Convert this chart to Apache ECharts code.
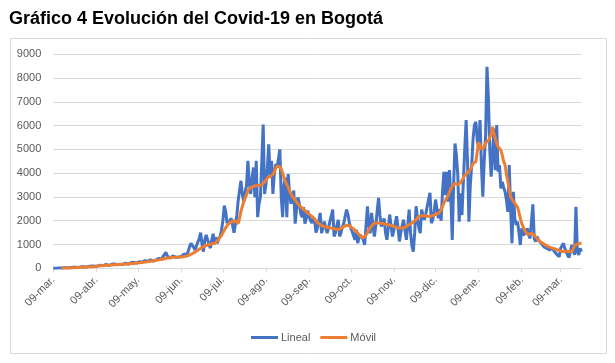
<!DOCTYPE html>
<html>
<head>
<meta charset="utf-8">
<script src="https://cdn.jsdelivr.net/npm/echarts@6/dist/echarts.min.js"></script>
<style>html,body{margin:0;padding:0;background:#fff;}#c{width:615px;height:363px;}</style>
</head>
<body>
<div id="c"></div>
<script>
// Daily cases (Lineal), from 09-mar-2020
const lineal = [
1,3,2,5,8,10,9,15,20,18,
25,30,22,35,40,30,45,50,38,55,
60,48,65,70,55,80,90,70,95,110,
85,120,100,90,130,140,110,150,160,125,
115,150,170,140,180,190,150,140,175,200,
165,210,220,180,170,215,240,200,250,260,
220,210,280,300,260,250,320,340,290,310,
360,330,300,380,350,340,420,450,380,500,
560,670,520,450,430,480,520,560,470,430,
460,420,500,520,600,640,560,700,900,1050,
1080,880,770,950,1100,1250,1500,1000,700,1200,
1400,1450,1000,850,1200,1450,1100,1300,1050,1250,
1350,1600,2000,2640,2400,1900,1850,2000,2100,2150,
1500,1450,2200,2850,2900,3680,3125,2800,3200,3475,
4520,3600,3125,3800,4240,2990,4520,2150,2700,3000,
4500,6050,3125,3540,4200,5210,3820,4520,3125,4000,
4380,4240,4200,5000,2990,2150,3500,3820,2150,3960,
3125,2710,3000,3270,1875,2500,2990,2710,2300,2150,
2570,1875,2100,2430,2200,2015,1900,2100,2000,1500,
1700,2000,2330,1480,1700,1970,1700,1480,1700,1970,
2200,2470,1340,1500,1800,2040,1340,1500,1750,1900,
2200,2470,2260,1900,1700,1550,1620,1200,1620,1060,
1300,1400,1480,1200,990,1800,2610,1800,1480,2330,
1800,1340,1800,2400,2960,2200,1760,1900,2100,1500,
1200,1700,2260,1800,1340,1600,1900,2190,1700,1130,
1500,1800,2040,1600,1200,1800,2470,1500,920,700,
1500,2610,2100,1700,1480,2470,2200,2040,2300,2600,
2900,3170,1900,2040,2400,2890,2500,2100,2500,2000,
3200,4060,3080,4060,2800,4130,3000,1190,3500,5250,
4760,3920,1960,3150,2240,3640,5000,6230,4500,1960,
3500,4340,5460,6020,6160,5400,5040,6230,4340,3010,
4500,5600,8470,7200,5000,3850,4800,5880,4130,6020,
4060,4340,3360,3640,3400,3220,2870,2380,4340,2500,
1050,3220,2100,1820,1960,1500,980,1680,1400,1400,
1500,1680,1400,1260,1300,2690,1260,1120,1330,1200,
1120,1050,980,900,870,840,800,770,800,840,
750,700,600,560,490,840,950,1050,840,700,
550,450,700,980,840,560,2590,700,560,840,700
];
// Moving average (Móvil)
const movil = [
null,null,null,null,null,null,6,7,9,11,
13,15,17,20,23,25,28,31,34,37,
40,43,46,50,53,57,61,65,70,75,
80,88,95,100,105,110,115,120,125,128,
132,136,140,144,148,152,156,160,164,168,
172,176,180,185,190,194,198,202,206,212,
218,224,230,238,246,254,262,270,278,286,
295,305,315,325,335,345,355,365,378,390,
405,420,432,440,448,455,460,465,468,470,
472,474,478,480,490,505,520,540,560,590,
620,650,680,720,760,800,840,880,910,940,
960,980,1000,1010,1020,1030,1040,1080,1150,1220,
1300,1390,1500,1600,1700,1800,1880,1920,1960,1990,
2010,1980,1920,1880,2100,2400,2600,2800,2950,3100,
3270,3330,3400,3440,3450,3460,3470,3475,3480,3500,
3520,3545,3620,3700,3800,3830,3860,3890,3950,4080,
4200,4300,4310,4260,4170,4000,3800,3650,3520,3400,
3250,3130,3030,2950,2870,2790,2710,2650,2590,2530,
2480,2430,2380,2330,2280,2230,2180,2130,2080,1980,
1920,1880,1840,1800,1770,1750,1740,1730,1720,1700,
1690,1680,1670,1650,1630,1620,1650,1690,1720,1750,
1780,1810,1830,1790,1740,1700,1650,1600,1540,1490,
1420,1350,1300,1270,1320,1400,1500,1620,1700,1780,
1850,1900,1910,1910,1910,1900,1900,1890,1870,1850,
1840,1830,1820,1800,1780,1760,1740,1720,1700,1690,
1690,1690,1690,1720,1760,1800,1830,1870,1900,1940,
1970,2040,2110,2180,2215,2215,2215,2215,2200,2190,
2180,2180,2200,2220,2250,2270,2290,2300,2310,2450,
2600,2750,2850,2950,3050,3200,3350,3450,3530,3570,
3550,3520,3500,3600,3700,3800,3920,3970,4010,4050,
4150,4280,4410,4450,4480,4900,5300,5200,5000,4950,
5100,5280,5330,5360,5390,5650,5950,5650,5450,5250,
5110,5050,4970,4750,4500,4340,3950,3650,3300,3000,
2900,2810,2730,2650,2560,2350,2100,1890,1750,1620,
1520,1430,1420,1450,1470,1450,1410,1330,1250,1180,
1140,1100,1060,1020,980,940,910,890,870,850,
830,810,790,770,750,730,710,700,710,720,
730,720,710,700,820,960,990,1010,1040,1050,1050
];
const startDate = '2020-03-09';
const monthNames = ['ene.','feb.','mar.','abr.','may.','jun.','jul.','ago.','sep.','oct.','nov.','dic.'];
const seriesNames = ['Lineal', 'Móvil'];
const titleText = 'Gráfico 4 Evolución del Covid-19 en Bogotá';

const t0 = Date.parse(startDate + 'T00:00:00Z');
const dates = lineal.map((_, i) => new Date(t0 + i * 86400000).toISOString().slice(0, 10));
const isLabelDay = (v) => v.slice(8, 10) === '09';
const fmt = (v) => v.slice(8, 10) + '-' + monthNames[parseInt(v.slice(5, 7), 10) - 1];

const chart = echarts.init(document.getElementById('c'), null, {renderer: 'canvas'});
chart.setOption({
  animation: false,
  backgroundColor: '#fff',
  textStyle: {fontFamily: 'Liberation Sans, Arial, sans-serif'},
  title: {
    text: titleText, left: 4, top: 5,
    textStyle: {fontSize: 18, fontWeight: 'bold', color: '#000', fontFamily: 'Liberation Sans, Arial, sans-serif'}
  },
  graphic: [{
    type: 'rect', silent: true, z: -10,
    shape: {x: 10.5, y: 38.5, width: 596, height: 315},
    style: {fill: 'none', stroke: '#d9d9d9', lineWidth: 1}
  }],
  legend: {
    data: seriesNames, left: 246, top: 327, icon: 'rect', itemWidth: 27, itemHeight: 3, itemGap: 10,
    textStyle: {fontSize: 11, color: '#595959', padding: [0, 0, 0, -2]}
  },
  grid: {left: 53.3, right: 33.5, top: 54.3, bottom: 94.7, containLabel: false},
  xAxis: {
    type: 'category', data: dates, boundaryGap: false,
    axisLine: {lineStyle: {color: '#d9d9d9', width: 1}},
    axisTick: {show: true, length: 4, interval: (i, v) => isLabelDay(v), lineStyle: {color: '#d9d9d9'}},
    axisLabel: {interval: (i, v) => isLabelDay(v), formatter: fmt, rotate: 45, fontSize: 11, color: '#595959', margin: 10},
    splitLine: {show: false}
  },
  yAxis: {
    type: 'value', min: 0, max: 9000, interval: 1000,
    axisLine: {show: false}, axisTick: {show: false},
    axisLabel: {fontSize: 11, color: '#595959', margin: 12, formatter: (v) => String(v)},
    splitLine: {lineStyle: {color: '#d9d9d9', width: 1}}
  },
  series: [
    {name: seriesNames[0], type: 'line', data: lineal, symbol: 'none', lineStyle: {color: '#4472C4', width: 3}, itemStyle: {color: '#4472C4'}, z: 2},
    {name: seriesNames[1], type: 'line', data: movil, symbol: 'none', lineStyle: {color: '#ED7D31', width: 3}, itemStyle: {color: '#ED7D31'}, z: 3}
  ]
});
</script>
</body>
</html>
